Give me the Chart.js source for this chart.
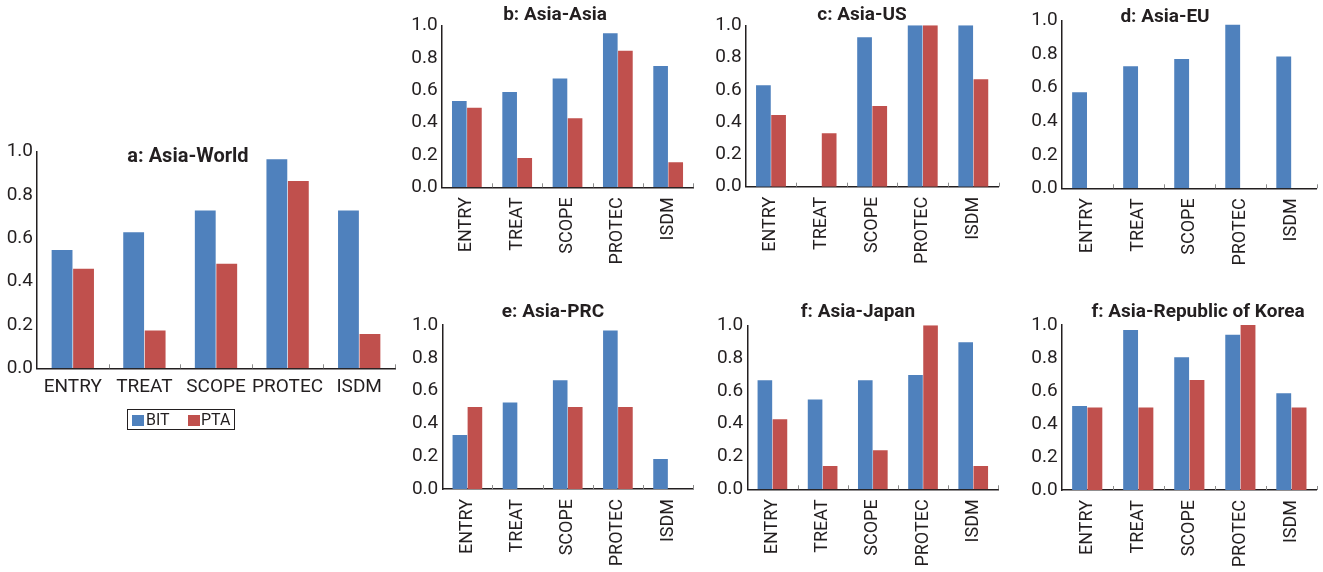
<!DOCTYPE html>
<html>
<head>
<meta charset="utf-8">
<script src="https://cdn.jsdelivr.net/npm/chart.js@4.4.1/dist/chart.umd.min.js"></script>
<style>
    body { margin: 0; background: #fff; width: 1323px; height: 572px; position: relative; overflow: hidden; }
    canvas { position: absolute; }
    #legend {
        position: absolute; left: 127px; top: 409px; width: 106px; height: 19px;
        border: 1px solid #231F20; font: 16px Roboto, sans-serif; color: #231F20;
        box-sizing: content-box; white-space: nowrap;
    }
    #legend .sw { position: absolute; display: block; top: 5px; width: 0; height: 11px; border-left: 12px solid; }
    #legend .lb { position: absolute; display: block; top: 0; line-height: 20px; }
</style>
</head>
<body>
<canvas id="chartA"></canvas>
<canvas id="chartB"></canvas>
<canvas id="chartC"></canvas>
<canvas id="chartD"></canvas>
<canvas id="chartE"></canvas>
<canvas id="chartF"></canvas>
<canvas id="chartG"></canvas>
<div id="legend"></div>
<script>
const categories = ['ENTRY', 'TREAT', 'SCOPE', 'PROTEC', 'ISDM'];
const seriesNames = ['BIT', 'PTA'];
const seriesColors = ['#4F81BD', '#C0504D'];
const yTicks = [0, 0.2, 0.4, 0.6, 0.8, 1.0];

const worldBIT = [0.546, 0.628, 0.729, 0.965, 0.729];
const worldPTA = [0.460, 0.174, 0.483, 0.865, 0.158];
const asiaBIT = [0.534, 0.590, 0.674, 0.953, 0.750];
const asiaPTA = [0.493, 0.181, 0.427, 0.845, 0.155];
const usBIT = [0.628, 0, 0.926, 1.0, 1.0];
const usPTA = [0.444, 0.331, 0.500, 1.0, 0.665];
const euBIT = [0.573, 0.728, 0.771, 0.976, 0.787];
const euPTA = [null, null, null, null, null];
const prcBIT = [0.329, 0.528, 0.663, 0.967, 0.183];
const prcPTA = [0.500, null, 0.500, 0.500, null];
const japanBIT = [0.665, 0.547, 0.665, 0.697, 0.896];
const japanPTA = [0.427, 0.142, 0.238, 1.0, 0.142];
const koreaBIT = [0.509, 0.970, 0.804, 0.941, 0.586];
const koreaPTA = [0.500, 0.500, 0.667, 1.0, 0.500];

const ink = '#231F20';
Chart.defaults.font.family = 'Roboto, sans-serif';
Chart.defaults.color = ink;

// panel layout (page coords for titles)
const panels = [
    { id: 'chartA', title: 'a: Asia-World', bit: worldBIT, pta: worldPTA,
      left: 0, top: 130, w: 400, h: 280, yW: 37, padTop: 21.7, padRight: 5, xH: 41.7,
      tx: 188, ty: 157, tSize: 20, xFont: 19, rotate: false },
    { id: 'chartB', title: 'b: Asia-Asia', bit: asiaBIT, pta: asiaPTA,
      left: 400, top: 0, w: 300, h: 290, yW: 41.7, padTop: 25.7, padRight: 2.3, xH: 102.7,
      tx: 555, ty: 15, tSize: 19, xFont: 18, rotate: true },
    { id: 'chartC', title: 'c: Asia-US', bit: usBIT, pta: usPTA,
      left: 700, top: 0, w: 305, h: 290, yW: 45.7, padTop: 25.3, padRight: 1, xH: 103.3,
      tx: 862, ty: 15, tSize: 19, xFont: 18, rotate: true },
    { id: 'chartD', title: 'd: Asia-EU', bit: euBIT, pta: euPTA,
      left: 1000, top: 0, w: 323, h: 290, yW: 61.7, padTop: 20.7, padRight: 0, xH: 101.7,
      tx: 1165, ty: 17, tSize: 19, xFont: 18, rotate: true },
    { id: 'chartE', title: 'e: Asia-PRC', bit: prcBIT, pta: prcPTA,
      left: 400, top: 295, w: 300, h: 277, yW: 42.3, padTop: 30, padRight: 3.3, xH: 83,
      tx: 553, ty: 312, tSize: 19, xFont: 18, rotate: true },
    { id: 'chartF', title: 'f: Asia-Japan', bit: japanBIT, pta: japanPTA,
      left: 700, top: 295, w: 305, h: 277, yW: 47.3, padTop: 30.3, padRight: 1.7, xH: 82.7,
      tx: 858, ty: 312, tSize: 19, xFont: 18, rotate: true },
    { id: 'chartG', title: 'f: Asia-Republic of Korea', bit: koreaBIT, pta: koreaPTA,
      left: 1000, top: 295, w: 323, h: 277, yW: 61.7, padTop: 30, padRight: 0, xH: 82,
      tx: 1198, ty: 312, tSize: 19, xFont: 18, rotate: true }
];

// small tick marks between categories + panel title
const panelDecor = {
    id: 'panelDecor',
    afterDraw(chart, args, opts) {
        const ctx = chart.ctx;
        const x = chart.scales.x;
        const area = chart.chartArea;
        const step = x.getPixelForTick(1) - x.getPixelForTick(0);
        ctx.save();
        ctx.strokeStyle = '#8c8c8c';
        ctx.lineWidth = 1;
        for (let i = 1; i <= x.ticks.length; i++) {
            const px = Math.round(x.getPixelForTick(0) + (i - 0.5) * step) + 0.5;
            ctx.beginPath();
            ctx.moveTo(px, area.bottom);
            ctx.lineTo(px, area.bottom - 4);
            ctx.stroke();
        }
        ctx.fillStyle = ink;
        ctx.font = 'bold ' + opts.size + 'px Roboto, sans-serif';
        ctx.textAlign = 'center';
        ctx.textBaseline = 'middle';
        ctx.fillText(opts.text, opts.x, opts.y);
        ctx.restore();
    }
};

panels.forEach(p => {
    const canvas = document.getElementById(p.id);
    canvas.width = p.w;
    canvas.height = p.h;
    canvas.style.left = p.left + 'px';
    canvas.style.top = p.top + 'px';

    new Chart(canvas.getContext('2d'), {
        type: 'bar',
        data: {
            labels: categories,
            datasets: [{
                label: seriesNames[0],
                data: p.bit,
                backgroundColor: seriesColors[0]
            }, {
                label: seriesNames[1],
                data: p.pta,
                backgroundColor: seriesColors[1]
            }]
        },
        options: {
            responsive: false,
            animation: false,
            categoryPercentage: 0.6,
            barPercentage: 0.97,
            layout: { padding: { left: 0, top: p.padTop, right: p.padRight, bottom: 0 } },
            plugins: {
                legend: { display: false },
                tooltip: { enabled: false },
                panelDecor: { text: p.title, x: p.tx - p.left, y: p.ty - p.top, size: p.tSize }
            },
            scales: {
                x: {
                    grid: { display: false, drawTicks: false },
                    border: { display: true, color: ink, width: 1.5 },
                    ticks: {
                        autoSkip: false,
                        minRotation: p.rotate ? 90 : 0,
                        maxRotation: p.rotate ? 90 : 0,
                        padding: p.rotate ? 10 : 8,
                        font: { size: p.xFont },
                        color: ink
                    },
                    afterFit: s => { s.height = p.xH; }
                },
                y: {
                    min: 0,
                    max: 1,
                    grid: { display: false, drawTicks: false },
                    border: { display: true, color: ink, width: 1.5 },
                    ticks: {
                        padding: 4,
                        font: { size: 19 },
                        color: ink,
                        callback: v => v.toFixed(1)
                    },
                    afterBuildTicks: s => { s.ticks = yTicks.map(v => ({ value: v })); },
                    afterFit: s => { s.width = p.yW; }
                }
            }
        },
        plugins: [panelDecor]
    });
});

// legend for panel a (offsets inside the box)
const legendSwatchX = [4, 60];
const legendLabelX = [18, 73];
const legendEl = document.getElementById('legend');
seriesNames.forEach((name, i) => {
    const sw = document.createElement('span');
    sw.className = 'sw';
    sw.style.left = legendSwatchX[i] + 'px';
    sw.style.borderLeftColor = seriesColors[i];
    const lb = document.createElement('span');
    lb.className = 'lb';
    lb.style.left = legendLabelX[i] + 'px';
    lb.textContent = name;
    legendEl.appendChild(sw);
    legendEl.appendChild(lb);
});
</script>
</body>
</html>
